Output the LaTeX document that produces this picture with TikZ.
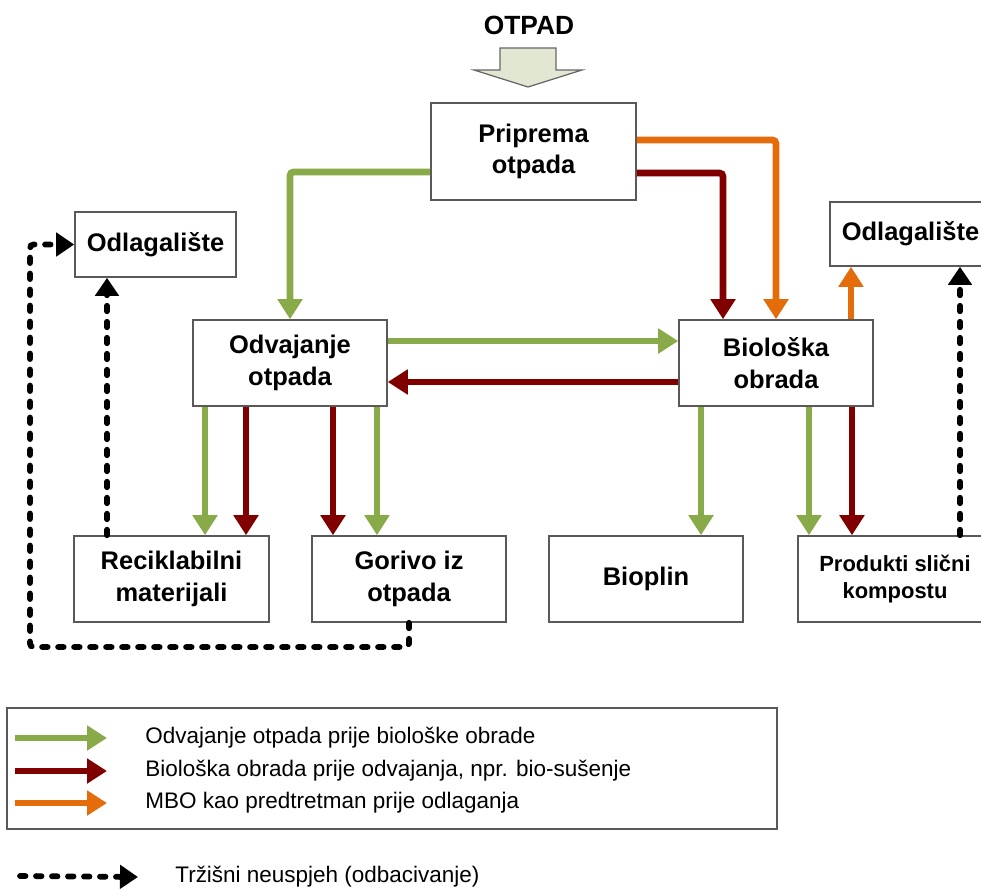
\documentclass[tikz,border=0pt]{standalone}
\usepackage{fontspec}
\setmainfont{Liberation Sans}
\usepackage{tikz}
\usetikzlibrary{arrows.meta, positioning}

\definecolor{zelena}{RGB}{137,170,72}
\definecolor{tamnocrvena}{RGB}{128,0,0}
\definecolor{narancasta}{RGB}{228,108,10}
\definecolor{ulazna}{RGB}{226,231,211}

\begin{document}
\begin{tikzpicture}[x=0.02cm, y=-0.02cm]
    \tikzset{
        kutija/.style = {rectangle, draw=gray!70!black, line width=0.9pt, fill=white, align=center, inner sep=0pt, minimum width=3.88cm, minimum height=1.72cm, font=\bfseries\fontsize{14.5}{18}\selectfont},
        mala/.style = {kutija, font=\bfseries\fontsize{12.5}{15}\selectfont},
        opis/.style = {anchor=west, inner sep=0pt, font=\fontsize{12.8}{15}\selectfont},
        zel/.style = {draw=zelena, line width=3.8pt, rounded corners=2pt, -{Triangle[length=0.4cm, width=0.48cm]}},
        crv/.style = {zel, draw=tamnocrvena},
        nar/.style = {zel, draw=narancasta},
        odbaci/.style = {draw=black, line width=3.3pt, line cap=round, dash pattern=on 0.11cm off 0.21cm, rounded corners=2pt, -{Triangle[length=0.36cm, width=0.46cm]}}
    }
    \useasboundingbox (0,0) rectangle (981,889);

    % ulaz
    \node[font=\bfseries\fontsize{15}{18}\selectfont] (otpad) at (529,25) {OTPAD};
    \draw[fill=ulazna, draw=gray!80!black, line width=0.7pt] (500,48) -- (556,48) -- (556,70) -- (582,70) -- (528,87) -- (474,70) -- (500,70) -- cycle;

    % kutije
    \node[kutija, minimum width=4.1cm, minimum height=1.94cm] (priprema) at (533.5,151.5) {Priprema\\otpada};
    \node[kutija, minimum width=3.22cm, minimum height=1.3cm] (odlL) at (155.5,244.5) {Odlagalište};
    \node[kutija, minimum width=3.22cm, minimum height=1.28cm] (odlR) at (910.5,234) {Odlagalište};
    \node[kutija] (odvajanje) at (290,363) {Odvajanje\\otpada};
    \node[kutija] (bioloska) at (776,363) {Biološka\\obrada};
    \node[kutija, minimum width=3.9cm] (reciklabilni) at (171.5,579) {Reciklabilni\\materijali};
    \node[kutija] (gorivo) at (409,579) {Gorivo iz\\otpada};
    \node[kutija] (bioplin) at (646,579) {Bioplin};
    \node[mala] (produkti) at (895,579) {Produkti slični\\kompostu};

    % tokovi
    \path[zel] ([yshift=-0.41cm]priprema.west) -| (odvajanje.north);
    \path[nar] ([yshift=0.23cm]priprema.east) -| (bioloska.north);
    \path[crv] ([yshift=-0.43cm]priprema.east) -| ([xshift=-1.06cm]bioloska.north);
    \path[zel] ([yshift=0.44cm]odvajanje.east) -- ([yshift=0.44cm]bioloska.west);
    \path[crv] ([yshift=-0.38cm]bioloska.west) -- ([yshift=-0.38cm]odvajanje.east);

    \path[zel] ([xshift=-1.7cm]odvajanje.south) -- ([xshift=-1.7cm]odvajanje.south |- reciklabilni.north);
    \path[crv] ([xshift=-0.88cm]odvajanje.south) -- ([xshift=-0.88cm]odvajanje.south |- reciklabilni.north);
    \path[crv] ([xshift=0.86cm]odvajanje.south) -- ([xshift=0.86cm]odvajanje.south |- gorivo.north);
    \path[zel] ([xshift=1.74cm]odvajanje.south) -- ([xshift=1.74cm]odvajanje.south |- gorivo.north);

    \path[zel] ([xshift=-1.5cm]bioloska.south) -- ([xshift=-1.5cm]bioloska.south |- bioplin.north);
    \path[zel] ([xshift=0.66cm]bioloska.south) -- ([xshift=0.66cm]bioloska.south |- produkti.north);
    \path[crv] ([xshift=1.52cm]bioloska.south) -- ([xshift=1.52cm]bioloska.south |- produkti.north);
    \path[nar] ([xshift=1.5cm]bioloska.north) -- ([xshift=1.5cm]bioloska.north |- odlR.south);

    % odbacivanje
    \path[odbaci] ([xshift=1.3cm]produkti.north) -- ([xshift=1.3cm]produkti.north |- odlR.south);
    \path[odbaci] ([xshift=-1.29cm]reciklabilni.north) -- ([xshift=-1.29cm]reciklabilni.north |- odlL.south);
    \coordinate (zaobilaz) at (30,647);
    \path[odbaci] (gorivo.south) |- (zaobilaz) |- (odlL.west);

    % legenda
    \node[draw=gray!70!black, line width=0.9pt, minimum width=15.4cm, minimum height=2.42cm, inner sep=0pt] (legenda) at (392,768.5) {};
    \node[opis] (l1) at (145,738) {Odvajanje otpada prije biološke obrade};
    \node[opis] (l2) at (145,771) {Biološka obrada prije odvajanja, npr. bio-sušenje};
    \node[opis] (l3) at (145,803) {MBO kao predtretman prije odlaganja};
    \node[opis] (l4) at (175,877) {Tržišni neuspjeh (odbacivanje)};
    \coordinate (p1) at (15,738);
    \coordinate (p2) at (15,771);
    \coordinate (p3) at (15,803);
    \coordinate (p4) at (20,876);
    \path[zel] (p1) -- ([xshift=-0.76cm]l1.west);
    \path[crv] (p2) -- ([xshift=-0.76cm]l2.west);
    \path[nar] (p3) -- ([xshift=-0.76cm]l3.west);
    \path[odbaci] (p4) -- ([xshift=-0.74cm]l4.west);
\end{tikzpicture}
\end{document}
